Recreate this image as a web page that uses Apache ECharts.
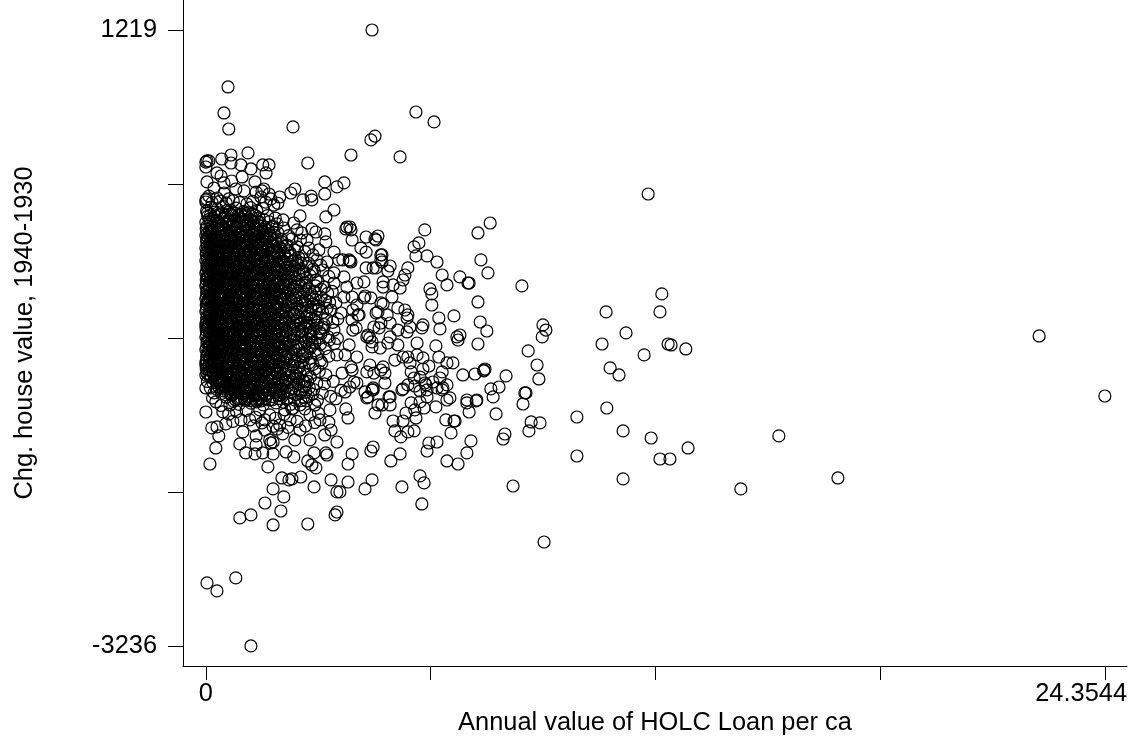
<!DOCTYPE html>
<html><head><meta charset="utf-8">
<style>html,body{margin:0;padding:0;background:#fff}#c{width:1143px;height:737px}</style>
<script src="https://cdn.jsdelivr.net/npm/echarts@6/dist/echarts.min.js"></script>
</head><body><div id="c"></div>
<script>
const xTickValues=[0,6.0886,12.1772,18.2658,24.3544];
const xTickLabels=[0];
const xEndLabel="24.3544";
const yTickValues=[-3236,-2122.25,-1008.5,105.25,1219];
const yTickLabels=[-3236,1219];
const xTitle="Annual value of HOLC Loan per ca";
const yTitle="Chg. house value, 1940-1930";
const topPoints=[[4.5,1219],[.6,807],[.49,619],[.62,503],[2.36,518],[5.69,626],[6.18,554],[4.58,452],[4.47,424],[3.93,315],[5.26,301],[2.76,257],[1.14,330],[.68,315],[.43,286],[.03,272],[0,264],[.08,272],[0,228],[.68,257],[.95,243],[1.54,243],[1.71,243],[1.22,214],[1.63,185],[.3,185],[.41,163],[.98,156],[.03,120],[.7,127],[1.33,120],[3.22,120],[3.74,113],[3.55,84],[2.41,69],[2.3,40],[3.22,33],[2.85,18],[2,11],[2.63,-10],[.49,113],[.22,76],[.81,69],[1.03,55],[1.57,69],[1.52,55],[1.36,47],[1.71,33],[.08,18],[.49,40],[.3,4],[.62,-3],[1.76,-3],[1.49,11],[0,-10],[11.98,33]];
const shoulderPoints=[[0,-25],[1.11,-39],[1.84,-47],[2.87,-10],[3.47,-83],[3.25,-133],[2.55,-126],[2.09,-155],[1.79,-206],[2.38,-177],[2.11,-213],[2.47,-227],[2.87,-220],[2.98,-242],[3.22,-256],[3.82,-206],[3.93,-227],[3.96,-300],[4.34,-278],[4.61,-300],[4.66,-271],[4.2,-358],[4.34,-387],[4.74,-408],[4.74,-444],[4.34,-502],[4.61,-502],[4.28,-603],[3.25,-314],[2.74,-300],[2.6,-249],[2.06,-314],[2.2,-336],[2.47,-350],[2.79,-358],[3.06,-372],[3.47,-387],[3.6,-444],[3.88,-444],[3.93,-459],[3.01,-444],[3.28,-459],[3.47,-538],[3.74,-567],[3.82,-640],[4.09,-611],[3.96,-712],[4.28,-719],[4.47,-719],[4.09,-770],[4.15,-842],[3.96,-878],[4.61,-828],[4.74,-755],[4.74,-900],[4.55,-929],[4.36,-1001],[4.5,-1037],[3.88,-1059],[4.09,-1146],[4.36,-1254],[4.55,-1262],[4.74,-1240],[4.5,-1384],[4.01,-1327],[3.69,-1262],[3.93,-1218],[3.25,-1276],[3.14,-1189],[3.55,-1131],[4.07,-936],[3.47,-951],[3.66,-828],[3.39,-806],[2.85,-864],[3.12,-712],[3.74,-712],[3.47,-611],[2.98,-589],[2.66,-531],[2.11,-466],[0,-1370],[.22,-1406],[0,-1204],[.08,-1276],[0,-929]];
const middlePoints=[[7.7,-177],[7.37,-249],[5.93,-227],[7.45,-444],[7.64,-538],[8.56,-632],[6.88,-567],[7.1,-611],[7.13,-611],[7.37,-748],[6.72,-849],[7.43,-893],[7.61,-958],[7.37,-1052],[8.73,-1102],[9.13,-914],[9.21,-951],[9.11,-1001],[8.97,-1204],[9.02,-1305],[8.64,-1406],[8.13,-1283],[7.94,-1363],[7.72,-1377],[7.78,-1435],[7.53,-1240],[7.56,-1233],[7.53,-1247],[7.29,-1269],[6.96,-1276],[6.69,-1189],[6.53,-1189],[6.31,-1146],[6.23,-1066],[5.72,-1045],[6.83,-1023],[6.88,-987],[6.8,-1001],[6.34,-943],[6.31,-864],[5.88,-914],[5.85,-936],[6.12,-770],[6.12,-690],[6.07,-654],[6.53,-625],[6.4,-553],[6.26,-459],[5.99,-415],[5.69,-415],[5.64,-350],[5.77,-321],[5.47,-502],[5.39,-553],[5.34,-589],[5.26,-647],[5.04,-712],[4.99,-488],[4.93,-524],[4.77,-408],[4.77,-459],[4.53,-502],[4.8,-603],[4.8,-640],[5.07,-625],[4.58,-292],[3.9,-206],[3.79,-220],[3.9,-452],[3.71,-444],[4.31,-705],[4.8,-763],[4.66,-820],[4.91,-842],[5.2,-791],[5.39,-806],[5.47,-842],[5.45,-864],[5.53,-929],[5.45,-965],[5.2,-951],[4.99,-900],[4.69,-936],[4.39,-987],[4.44,-1008],[4.99,-1001],[4.93,-1045],[5.2,-1059],[4.72,-1081],[4.5,-1073],[4.12,-842],[3.98,-806],[3.98,-951],[3.77,-1131],[4.44,-1204],[3.96,-1240],[4.8,-1218],[4.85,-1262],[4.85,-1334],[5.12,-1168],[5.34,-1146],[5.47,-1146],[5.72,-1131],[5.88,-1153],[5.53,-1189],[5.56,-1254],[5.88,-1233],[6.04,-1211],[6.4,-1254],[6.34,-1298],[6.15,-1327],[5.93,-1334],[5.8,-1291],[5.64,-1298],[5.47,-1348],[5.31,-1384],[5.8,-1392],[5.99,-1384],[6.26,-1370],[6.53,-1348],[6.4,-1384],[4.99,-1435],[4.53,-1384],[4.09,-1334],[3.9,-1363],[3.77,-1399],[4.39,-1435],[6.61,-1442],[7.07,-1457],[7.34,-1457]];
const lowerPoints=[[3.79,-1522],[3.85,-1587],[3.96,-1847],[3.85,-1920],[3.85,-2050],[4.31,-2100],[4.5,-2035],[4.47,-1826],[4.53,-1797],[5.01,-1898],[5.26,-1847],[5.31,-2086],[5.8,-2006],[5.91,-2057],[5.85,-2209],[5.99,-1826],[6.04,-1768],[6.26,-1761],[6.53,-1898],[6.83,-1920],[7.07,-1840],[7.18,-1753],[6.64,-1695],[6.5,-1601],[6.72,-1609],[6.75,-1609],[7.13,-1544],[7.07,-1478],[7.32,-1464],[7.86,-1558],[8.67,-1406],[8.59,-1486],[8.81,-1616],[8.75,-1681],[9.05,-1623],[8.1,-1703],[8.05,-1739],[8.32,-2079],[3.63,-2122],[3.5,-2288],[3.55,-2267],[4.58,-1551],[4.99,-1493],[4.96,-1435],[4.77,-1493],[4.66,-1493],[4.36,-1442],[4.31,-1399],[4.53,-1370],[5.34,-1377],[5.66,-1356],[5.96,-1348],[6.42,-1370],[6.53,-1457],[6.23,-1507],[5.91,-1515],[5.8,-1471],[5.99,-1435],[5.56,-1478],[5.42,-1551],[5.66,-1529],[5.69,-1587],[5.34,-1609],[5.07,-1609],[5.12,-1681],[5.28,-1724],[5.47,-1688],[5.64,-1681],[0,-1544],[.16,-1659],[.3,-1652],[.35,-1717],[.54,-1630],[.27,-1804],[.11,-1920],[.95,-1601],[1,-1688],[.92,-1775],[1.08,-1840],[1.33,-1847],[1.54,-1840],[1.82,-1847],[1.36,-1717],[1.36,-1782],[1.68,-1941],[2.06,-2021],[2.25,-2035],[2.33,-2028],[2.57,-2014],[1.82,-2100],[2.11,-2158],[1.6,-2202],[2.03,-2260],[1.22,-2288],[.92,-2310],[1.82,-2361],[2.76,-2354],[2.93,-2086],[3.55,-2122],[3.39,-2035],[2.98,-1948],[2.87,-1927],[2.76,-1898],[3.28,-1855],[3.25,-1840],[2.93,-1840],[2.38,-1869],[2.17,-1833],[1.82,-1761],[1.76,-1768],[3.55,-1761],[3.39,-1674],[.03,-2780],[.3,-2838],[.81,-2744],[1.22,-3236],[.65,-1493],[1.19,-1601],[1.6,-1674],[1.73,-1746],[2,-1638],[2.28,-1601],[2.41,-1746],[2.55,-1674],[2.82,-1565],[3.09,-1601],[3.22,-1710],[2.82,-1746],[2.14,-1529],[2.55,-1493],[1.46,-1529],[1.73,-1565],[2.95,-1493],[3.36,-1529],[10.84,-820],[12.35,-690],[12.3,-820],[11.38,-972],[12.52,-1052],[12.6,-1059],[13,-1088],[10.73,-1052],[11.87,-1131],[10.95,-1225],[11.19,-1276],[10.86,-1515],[10.05,-1580],[11.3,-1681],[12.06,-1732],[13.06,-1804],[15.52,-1717],[12.3,-1884],[12.57,-1884],[10.05,-1862],[11.3,-2028],[14.49,-2100],[17.12,-2021],[9.16,-2484],[22.57,-994],[24.35,-1428]];
const densePoints=[
[.02,-90],[.14,-62],[.31,-75],[.47,-58],[.66,-84],[.83,-70],[1.02,-93],[1.21,-66],[1.38,-88],[1.55,-72],
[.05,-128],[.19,-143],[.36,-118],[.52,-136],[.71,-125],[.9,-147],[1.07,-131],[1.26,-112],[1.44,-139],[1.67,-124],[1.88,-141],
[0,-172],[.11,-188],[.27,-165],[.42,-194],[.58,-177],[.76,-186],[.97,-169],[1.13,-192],[1.3,-175],[1.49,-198],[1.71,-168],[1.93,-183],
[.01,-221],[.09,-238],[.23,-214],[.35,-243],[.5,-226],[.64,-236],[.8,-217],[.99,-245],[1.17,-228],[1.34,-212],[1.52,-240],[1.69,-231],[1.95,-249],
[0,-266],[.06,-281],[.17,-259],[.29,-287],[.44,-270],[.56,-292],[.72,-263],[.87,-283],[1.03,-272],[1.19,-296],[1.36,-261],[1.58,-285],[1.75,-268],[1.9,-291],
[.02,-311],[.1,-326],[.21,-305],[.33,-333],[.46,-316],[.61,-338],[.75,-309],[.92,-329],[1.08,-318],[1.25,-341],[1.42,-307],[1.6,-331],[1.8,-322],
[0,-358],[.07,-372],[.16,-350],[.3,-379],[.41,-361],[.54,-384],[.69,-354],[.84,-376],[1,-363],[1.16,-388],[1.33,-352],[1.5,-374],[1.68,-366],[1.86,-385],[2.02,-357],[2.22,-378],
[.01,-403],[.12,-419],[.25,-397],[.37,-425],[.49,-409],[.63,-431],[.78,-401],[.94,-422],[1.11,-412],[1.28,-434],[1.46,-399],[1.63,-420],[1.82,-414],[1.99,-430],[2.3,-411],[2.51,-426],
[0,-449],[.08,-465],[.19,-443],[.32,-471],[.45,-455],[.59,-477],[.73,-447],[.89,-468],[1.05,-458],[1.22,-480],[1.39,-445],[1.57,-466],[1.74,-460],[1.92,-476],[2.34,-454],[2.58,-470],
[.03,-495],[.14,-511],[.27,-489],[.39,-517],[.52,-501],[.67,-523],[.81,-493],[.96,-514],[1.13,-504],[1.3,-526],[1.47,-491],[1.65,-512],[1.84,-506],[2.03,-522],[2.24,-498],[2.42,-516],[2.73,-492],[2.91,-510],
[0,-541],[.06,-557],[.18,-535],[.3,-563],[.43,-547],[.57,-569],[.7,-539],[.86,-560],[1.02,-550],[1.19,-572],[1.36,-537],[1.54,-558],[1.72,-552],[1.91,-568],[2.12,-544],[2.33,-562],[2.53,-540],[2.82,-556],
[.01,-587],[.11,-603],[.23,-581],[.35,-609],[.48,-593],[.62,-615],[.77,-585],[.93,-606],[1.09,-596],[1.26,-618],[1.43,-583],[1.61,-604],[1.79,-598],[1.98,-614],[2.19,-590],[2.4,-608],[2.61,-586],[3.03,-602],
[0,-633],[.08,-649],[.2,-627],[.33,-655],[.46,-639],[.6,-661],[.74,-631],[.9,-652],[1.06,-642],[1.23,-664],[1.4,-629],[1.58,-650],[1.77,-644],[1.96,-660],[2.16,-636],[2.36,-654],[2.57,-632],[2.77,-648],[3.21,-640],
[.02,-679],[.13,-695],[.26,-673],[.38,-701],[.51,-685],[.65,-707],[.79,-677],[.95,-698],[1.12,-688],[1.29,-710],[1.45,-675],[1.64,-696],[1.83,-690],[2.01,-706],[2.21,-682],[2.43,-700],[2.64,-678],[2.86,-694],[3.3,-686],
[0,-725],[.07,-741],[.17,-719],[.3,-747],[.44,-731],[.58,-753],[.72,-723],[.88,-744],[1.04,-734],[1.2,-756],[1.37,-721],[1.55,-742],[1.73,-736],[1.94,-752],[2.13,-728],[2.32,-746],[2.55,-724],[2.75,-740],[2.98,-732],[3.35,-750],
[.01,-771],[.12,-787],[.24,-765],[.36,-793],[.5,-777],[.63,-799],[.78,-769],[.93,-790],[1.1,-780],[1.27,-802],[1.44,-767],[1.62,-788],[1.81,-782],[2,-798],[2.2,-774],[2.41,-792],[2.62,-770],[2.84,-786],[3.05,-778],
[0,-817],[.09,-833],[.2,-811],[.32,-839],[.47,-823],[.6,-845],[.75,-815],[.91,-836],[1.07,-826],[1.24,-848],[1.41,-813],[1.59,-834],[1.78,-828],[1.97,-844],[2.17,-820],[2.38,-838],[2.59,-816],[2.8,-832],[3.16,-824],
[.02,-863],[.14,-879],[.27,-857],[.4,-885],[.53,-869],[.68,-891],[.82,-861],[.98,-882],[1.14,-872],[1.31,-894],[1.48,-859],[1.66,-880],[1.85,-874],[2.04,-890],[2.25,-866],[2.46,-884],[2.68,-862],[2.93,-878],[3.27,-870],
[0,-909],[.06,-925],[.18,-903],[.31,-931],[.43,-915],[.56,-937],[.71,-907],[.87,-928],[1.03,-918],[1.2,-940],[1.37,-905],[1.56,-926],[1.75,-920],[1.93,-936],[2.14,-912],[2.35,-930],[2.56,-908],[2.78,-924],[3,-916],[3.2,-934],
[.01,-955],[.11,-971],[.22,-949],[.35,-977],[.48,-961],[.61,-983],[.76,-953],[.92,-974],[1.08,-964],[1.25,-986],[1.42,-951],[1.6,-972],[1.79,-966],[1.99,-982],[2.19,-958],[2.39,-976],[2.6,-954],[2.83,-970],[3.08,-962],
[0,-1001],[.08,-1017],[.2,-995],[.34,-1023],[.46,-1007],[.59,-1029],[.73,-999],[.89,-1020],[1.05,-1010],[1.22,-1032],[1.39,-997],[1.57,-1018],[1.76,-1012],[1.95,-1028],[2.16,-1004],[2.37,-1022],[2.58,-1000],[2.79,-1016],[3.02,-1008],[3.34,-1024],
[.03,-1047],[.13,-1063],[.25,-1041],[.38,-1069],[.51,-1053],[.64,-1075],[.79,-1045],[.94,-1066],[1.11,-1056],[1.28,-1078],[1.45,-1043],[1.63,-1064],[1.82,-1058],[2.01,-1074],[2.22,-1050],[2.44,-1068],[2.66,-1046],[2.88,-1062],[3.1,-1054],
[0,-1093],[.07,-1109],[.19,-1087],[.29,-1115],[.42,-1099],[.55,-1121],[.7,-1091],[.86,-1112],[1.02,-1102],[1.18,-1124],[1.35,-1089],[1.53,-1110],[1.72,-1104],[1.92,-1120],[2.11,-1096],[2.31,-1114],[2.52,-1092],[2.74,-1108],[2.96,-1100],
[.02,-1139],[.12,-1155],[.24,-1133],[.37,-1161],[.49,-1145],[.63,-1167],[.77,-1137],[.93,-1158],[1.09,-1148],[1.26,-1170],[1.43,-1135],[1.61,-1156],[1.8,-1150],[1.99,-1166],[2.18,-1142],[2.4,-1160],[2.61,-1138],[2.84,-1154],
[0,-1185],[.09,-1201],[.21,-1179],[.33,-1207],[.45,-1191],[.6,-1213],[.74,-1183],[.9,-1204],[1.06,-1194],[1.23,-1216],[1.4,-1181],[1.58,-1202],[1.77,-1196],[1.96,-1212],[2.15,-1188],[2.36,-1206],[2.57,-1184],[2.9,-1200],
[.01,-1231],[.13,-1247],[.26,-1225],[.39,-1253],[.52,-1237],[.66,-1259],[.8,-1229],[.96,-1250],[1.12,-1240],[1.29,-1262],[1.46,-1227],[1.64,-1248],[1.83,-1242],[2.02,-1258],[2.23,-1234],[2.45,-1252],[2.67,-1230],
[0,-1277],[.15,-1293],[.28,-1271],[.41,-1299],[.54,-1283],[.68,-1305],[.83,-1275],[.99,-1296],[1.15,-1286],[1.32,-1308],[1.49,-1273],[1.67,-1294],[1.86,-1288],[2.06,-1304],[2.27,-1280],[2.49,-1298],[2.72,-1276],
[.04,-1323],[.3,-1317],[.44,-1345],[.57,-1329],[.71,-1351],[.85,-1321],[1.01,-1342],[1.17,-1332],[1.34,-1354],[1.51,-1319],[1.69,-1340],[1.88,-1334],[2.08,-1350],[2.29,-1326],[2.52,-1344],[2.76,-1322],[3,-1338],
[.12,-1369],[.35,-1363],[.48,-1391],[.62,-1375],[.76,-1397],[.9,-1367],[1.06,-1388],[1.22,-1378],[1.39,-1400],[1.56,-1365],[1.74,-1386],[1.93,-1380],[2.13,-1396],[2.34,-1372],[2.56,-1390],[2.8,-1368],
[.42,-1409],[.55,-1437],[.69,-1421],[.84,-1443],[.98,-1413],[1.14,-1434],[1.3,-1424],[1.47,-1446],[1.64,-1411],[1.82,-1432],[2.01,-1426],[2.21,-1442],[2.42,-1418],[2.65,-1436],[2.89,-1414],
[.75,-1467],[.9,-1489],[1.05,-1459],[1.22,-1480],[1.38,-1470],[1.55,-1492],[1.72,-1457],[1.9,-1478],[2.09,-1472],[2.3,-1488],[2.72,-1464],
[.02,-2],[.17,-30],[.39,-18],[.55,-32],[.74,-16],[.91,-28],[1.27,-20],[1.62,-26],[1.95,-34]
];
const coreUpperPoints=[
[.04,-105],[.24,-98],[.43,-112],[.6,-101],[.78,-108],[.95,-116],[1.15,-104],[1.33,-121],[.09,-150],[.3,-157],[.46,-149],[.63,-154],[.82,-162],[1.01,-151],[1.2,-158],[1.39,-161],[1.58,-155],
[.03,-200],[.16,-206],[.31,-199],[.47,-209],[.67,-203],[.86,-211],[1.06,-201],[1.24,-208],[1.42,-196],[1.6,-210],[1.82,-204],[.04,-251],[.14,-247],[.28,-254],[.41,-249],[.53,-258],[.7,-246],[.9,-256],[1.1,-250],[1.27,-255],[1.45,-248],[1.64,-257],[1.84,-244],
[.03,-296],[.13,-299],[.25,-293],[.38,-302],[.51,-297],[.66,-304],[.82,-295],[.97,-301],[1.13,-306],[1.31,-298],[1.48,-303],[1.66,-294],[1.87,-304],[2.05,-296],
[.04,-342],[.14,-347],[.26,-339],[.38,-350],[.5,-344],[.64,-352],[.79,-343],[.95,-349],[1.11,-341],[1.28,-347],[1.46,-345],[1.63,-352],[1.83,-342],[1.98,-349],[2.18,-344],
[.02,-388],[.1,-392],[.21,-385],[.33,-396],[.46,-390],[.59,-398],[.73,-388],[.89,-394],[1.06,-386],[1.22,-397],[1.4,-392],[1.56,-388],[1.75,-396],[1.93,-390],[2.12,-398],[2.28,-392],
[.04,-434],[.15,-437],[.29,-431],[.42,-441],[.54,-436],[.68,-443],[.84,-433],[1,-440],[1.16,-432],[1.33,-441],[1.51,-436],[1.69,-443],[1.87,-434],[2.06,-441],[2.2,-436],[2.42,-444],
[.03,-480],[.11,-484],[.23,-476],[.35,-487],[.48,-482],[.62,-489],[.77,-479],[.92,-486],[1.09,-477],[1.26,-488],[1.43,-482],[1.6,-489],[1.79,-480],[1.97,-486],[2.15,-478],[2.33,-487],[2.5,-482],
[.02,-526],[.09,-530],[.21,-523],[.33,-533],[.46,-528],[.6,-535],[.74,-525],[.89,-532],[1.05,-524],[1.22,-534],[1.4,-529],[1.58,-535],[1.76,-526],[1.95,-532],[2.14,-524],[2.32,-533],[2.63,-527],
[.04,-572],[.14,-576],[.26,-569],[.38,-579],[.51,-574],[.65,-581],[.8,-571],[.95,-578],[1.12,-570],[1.29,-580],[1.46,-575],[1.65,-581],[1.84,-572],[2.03,-578],[2.24,-570],[2.46,-579],[2.72,-574],
[.02,-618],[.09,-622],[.2,-615],[.32,-625],[.45,-620],[.58,-627],[.72,-617],[.87,-624],[1.04,-616],[1.21,-626],[1.38,-621],[1.56,-627],[1.75,-618],[1.93,-624],[2.13,-616],[2.31,-625],[2.52,-620],[2.72,-626]
];
const coreMiddlePoints=[
[.04,-664],[.16,-668],[.29,-661],[.41,-671],[.54,-666],[.68,-673],[.83,-663],[.98,-670],[1.15,-662],[1.32,-672],[1.49,-667],[1.68,-673],[1.87,-664],[2.06,-670],[2.27,-662],[2.49,-671],[2.71,-666],[2.95,-672],
[.02,-710],[.1,-714],[.22,-707],[.34,-717],[.47,-712],[.61,-719],[.76,-709],[.91,-716],[1.08,-708],[1.25,-718],[1.42,-713],[1.6,-719],[1.79,-710],[1.99,-716],[2.18,-708],[2.38,-717],[2.6,-712],[2.82,-718],
[.04,-756],[.15,-760],[.27,-753],[.39,-763],[.52,-758],[.66,-765],[.81,-755],[.96,-762],[1.13,-754],[1.3,-764],[1.47,-759],[1.66,-765],[1.85,-756],[2.05,-762],[2.26,-754],[2.47,-763],[2.7,-758],[2.91,-764],
[.02,-802],[.1,-806],[.22,-799],[.34,-809],[.46,-804],[.6,-811],[.74,-801],[.89,-808],[1.05,-800],[1.22,-810],[1.39,-805],[1.57,-811],[1.76,-802],[1.95,-808],[2.14,-800],[2.34,-809],[2.55,-804],[2.76,-810],[2.99,-803],
[.04,-848],[.15,-852],[.28,-845],[.41,-855],[.54,-850],[.68,-857],[.83,-847],[.99,-854],[1.16,-846],[1.33,-856],[1.5,-851],[1.69,-857],[1.88,-848],[2.08,-854],[2.29,-846],[2.51,-855],[2.73,-850],[2.98,-856],
[.02,-894],[.09,-898],[.21,-891],[.33,-901],[.45,-896],[.59,-903],[.73,-893],[.88,-900],[1.05,-892],[1.22,-902],[1.39,-897],[1.57,-903],[1.76,-894],[1.96,-900],[2.16,-892],[2.37,-901],[2.58,-896],[2.8,-902],[3.02,-895],
[.04,-940],[.15,-944],[.27,-937],[.4,-947],[.53,-942],[.67,-949],[.82,-939],[.97,-946],[1.14,-938],[1.31,-948],[1.48,-943],[1.67,-949],[1.86,-940],[2.06,-946],[2.27,-938],[2.48,-947],[2.7,-942],[2.93,-948],[3.13,-941],
[.02,-986],[.1,-990],[.22,-983],[.34,-993],[.46,-988],[.6,-995],[.75,-985],[.9,-992],[1.07,-984],[1.24,-994],[1.41,-989],[1.59,-995],[1.78,-986],[1.98,-992],[2.18,-984],[2.39,-993],[2.6,-988],[2.84,-994],
[.04,-1032],[.15,-1036],[.28,-1029],[.4,-1039],[.53,-1034],[.67,-1041],[.82,-1031],[.98,-1038],[1.15,-1030],[1.32,-1040],[1.49,-1035],[1.68,-1041],[1.87,-1032],[2.07,-1038],[2.28,-1030],[2.49,-1039],[2.71,-1034],[2.95,-1040],
[.02,-1078],[.09,-1082],[.21,-1075],[.33,-1085],[.46,-1080],[.6,-1087],[.74,-1077],[.89,-1084],[1.06,-1076],[1.23,-1086],[1.4,-1081],[1.58,-1087],[1.77,-1078],[1.97,-1084],[2.17,-1076],[2.38,-1085],[2.6,-1080],[2.82,-1086]
];
const coreLowerPoints=[
[.04,-1124],[.15,-1128],[.27,-1121],[.4,-1131],[.53,-1126],[.67,-1133],[.82,-1123],[.97,-1130],[1.14,-1122],[1.31,-1132],[1.48,-1127],[1.66,-1133],[1.85,-1124],[2.05,-1130],[2.25,-1122],[2.46,-1131],[2.68,-1126],
[.02,-1170],[.1,-1174],[.22,-1167],[.34,-1177],[.47,-1172],[.6,-1179],[.75,-1169],[.91,-1176],[1.07,-1168],[1.24,-1178],[1.41,-1173],[1.6,-1179],[1.79,-1170],[1.98,-1176],[2.19,-1168],[2.41,-1177],[2.63,-1172],
[.05,-1216],[.16,-1220],[.29,-1213],[.42,-1223],[.55,-1218],[.69,-1225],[.84,-1215],[1,-1222],[1.17,-1214],[1.34,-1224],[1.51,-1219],[1.7,-1225],[1.89,-1216],[2.09,-1222],[2.3,-1214],[2.52,-1223],
[.03,-1262],[.2,-1266],[.33,-1259],[.46,-1269],[.59,-1264],[.73,-1271],[.88,-1261],[1.03,-1268],[1.2,-1260],[1.37,-1270],[1.54,-1265],[1.73,-1271],[1.92,-1262],[2.12,-1268],[2.34,-1260],[2.56,-1269],
[.25,-1312],[.38,-1305],[.5,-1315],[.63,-1310],[.77,-1317],[.92,-1307],[1.08,-1314],[1.25,-1306],[1.42,-1316],[1.59,-1311],[1.78,-1317],[1.97,-1308],[2.17,-1314],[2.39,-1306],[2.62,-1315],
[.4,-1351],[.53,-1361],[.66,-1356],[.8,-1363],[.96,-1353],[1.12,-1360],[1.28,-1352],[1.45,-1362],[1.62,-1357],[1.81,-1363],[2,-1354],[2.2,-1360],[2.43,-1352],[2.67,-1361],
[.6,-1402],[.73,-1409],[.88,-1399],[1.03,-1406],[1.19,-1398],[1.36,-1408],[1.53,-1403],[1.71,-1409],[1.9,-1400],[2.1,-1406],[2.31,-1398],[2.54,-1407],
[.8,-1455],[.96,-1445],[1.11,-1452],[1.27,-1444],[1.44,-1454],[1.61,-1449],[1.8,-1455],[1.99,-1446],[2.2,-1452],[2.4,-1456]
];
const coreFillPoints=[
[.13,-118],[.11,-163],[.17,-229],[.1,-271],[.12,-315],[.15,-364],[.09,-410],[.16,-452],[.07,-503],[.12,-551],[.14,-596],[.1,-640],[.16,-688],[.06,-733],[.13,-779],[.11,-824],[.15,-871],[.08,-917],[.12,-963],[.17,-1009],[.1,-1055],[.14,-1100],[.11,-1147],[.16,-1193],[.07,-1239],[.13,-1285],[.19,-1332],[.28,-1378],
[.25,-126],[.34,-173],[.37,-219],[.24,-264],[.39,-311],[.26,-356],[.35,-404],[.25,-449],[.36,-497],[.24,-545],[.37,-590],[.27,-634],[.34,-681],[.23,-726],[.38,-773],[.28,-819],[.35,-864],[.24,-911],[.38,-958],[.27,-1003],[.35,-1049],[.25,-1096],[.38,-1141],[.26,-1187],[.36,-1233],[.24,-1279],[.37,-1326],[.44,-1372],
[.52,-120],[.56,-166],[.44,-212],[.57,-257],[.49,-306],[.57,-348],[.42,-395],[.56,-441],[.42,-492],[.55,-538],[.43,-584],[.55,-628],[.42,-674],[.54,-720],[.44,-766],[.56,-812],[.43,-858],[.55,-904],[.44,-950],[.56,-996],[.43,-1042],[.56,-1088],[.44,-1134],[.56,-1180],[.45,-1226],[.55,-1272],[.44,-1318],[.56,-1364],[.66,-1410],
[.69,-114],[.75,-160],[.62,-207],[.78,-252],[.6,-299],[.74,-346],[.62,-391],[.76,-437],[.6,-484],[.76,-530],[.6,-577],[.76,-622],[.61,-668],[.74,-714],[.62,-760],[.76,-806],[.62,-852],[.74,-898],[.62,-944],[.76,-990],[.6,-1036],[.76,-1082],[.61,-1128],[.75,-1174],[.62,-1220],[.76,-1266],[.62,-1312],[.74,-1358],[.8,-1404],[.87,-1450],
[.88,-122],[.91,-168],[.82,-214],[.95,-260],[.8,-306],[.9,-351],[.81,-397],[.93,-443],[.8,-489],[.94,-535],[.82,-581],[.93,-627],[.81,-673],[.9,-719],[.82,-765],[.94,-811],[.8,-857],[.92,-903],[.81,-949],[.94,-995],[.8,-1041],[.94,-1087],[.81,-1133],[.92,-1179],[.82,-1225],[.93,-1271],[.81,-1317],[.93,-1363],[.97,-1409],[1.04,-1447],
[1.06,-110],[1.1,-156],[1,-215],[1.11,-262],[1.02,-308],[1.12,-352],[1.01,-400],[1.09,-446],[1.03,-490],[1.11,-538],[1,-583],[1.1,-630],[1.02,-676],[1.12,-722],[1.01,-768],[1.11,-814],[1.01,-860],[1.1,-906],[1.02,-952],[1.13,-998],[1,-1044],[1.1,-1090],[1.01,-1136],[1.12,-1182],[1,-1228],[1.11,-1274],[1.03,-1320],[1.1,-1366],[1.15,-1412],[1.19,-1462],
[1.23,-130],[1.29,-170],[1.19,-216],[1.3,-263],[1.21,-311],[1.33,-356],[1.19,-402],[1.31,-449],[1.2,-494],[1.33,-541],[1.18,-586],[1.3,-632],[1.2,-678],[1.33,-724],[1.18,-770],[1.32,-816],[1.2,-862],[1.33,-908],[1.19,-954],[1.32,-1000],[1.21,-1046],[1.33,-1092],[1.19,-1138],[1.3,-1184],[1.2,-1230],[1.33,-1276],[1.19,-1322],[1.3,-1368],[1.33,-1414],[1.35,-1458],
[1.46,-170],[1.38,-222],[1.53,-268],[1.4,-313],[1.54,-359],[1.38,-405],[1.53,-451],[1.4,-497],[1.55,-543],[1.38,-589],[1.53,-635],[1.39,-681],[1.55,-727],[1.38,-773],[1.53,-819],[1.38,-865],[1.54,-911],[1.4,-957],[1.54,-1003],[1.38,-1049],[1.55,-1095],[1.38,-1141],[1.53,-1187],[1.4,-1233],[1.55,-1279],[1.39,-1325],[1.54,-1371],[1.42,-1417],[1.5,-1463],
[1.6,-222],[1.73,-262],[1.6,-318],[1.71,-363],[1.59,-409],[1.74,-455],[1.6,-501],[1.73,-547],[1.58,-593],[1.72,-639],[1.6,-685],[1.74,-731],[1.6,-777],[1.73,-823],[1.6,-869],[1.72,-915],[1.6,-961],[1.74,-1007],[1.6,-1053],[1.73,-1099],[1.6,-1145],[1.72,-1191],[1.6,-1237],[1.73,-1283],[1.59,-1329],[1.72,-1375],[1.6,-1421],
[1.91,-322],[1.79,-368],[1.94,-414],[1.8,-460],[1.92,-506],[1.79,-552],[1.94,-598],[1.82,-644],[1.92,-690],[1.8,-736],[1.93,-782],[1.8,-828],[1.94,-874],[1.81,-920],[1.92,-966],[1.8,-1012],[1.94,-1058],[1.82,-1104],[1.93,-1150],[1.8,-1196],[1.93,-1242],[1.81,-1288],[1.94,-1334],[1.8,-1380],[1.95,-1426],
[2.13,-410],[2.03,-456],[2.16,-502],[2.04,-548],[2.17,-594],[2.03,-640],[2.14,-686],[2.04,-732],[2.17,-778],[2.05,-824],[2.15,-870],[2.03,-916],[2.17,-962],[2.05,-1008],[2.15,-1054],[2.04,-1100],[2.16,-1146],[2.04,-1192],[2.17,-1238],[2.04,-1284],[2.15,-1330],[2.07,-1376]
];
const flankPoints=[
[2.24,-268],[2.33,-292],[2.56,-301],[2.41,-372],[2.68,-385],[2.9,-407],[2.63,-441],[2.78,-468],[3.11,-481],[2.94,-529],[3.17,-517],[3.33,-563],[2.7,-610],[2.97,-632],[3.12,-655],[3.42,-672],[2.9,-726],[3.24,-739],[3.52,-755],[3.06,-801],[3.28,-794],[3.57,-871],[3.44,-895],[3.2,-911],[3.12,-978],[3.31,-1001],[3.56,-1012],[3.48,-1049],[3.23,-1086],[3.03,-1126],[3.33,-1140],[3.1,-1173],[2.79,-1189],[2.95,-1232],[3.07,-1250],[2.83,-1290],[2.66,-1322],[3.21,-1341],[3.45,-1322],[2.92,-1381],[3.15,-1407],[3.38,-1431],[2.78,-1433],[3.02,-1459],[2.57,-1462],[2.68,-1521],[2.36,-1517],[2.12,-1561],[1.88,-1589],[1.6,-1601],[1.35,-1582],[1.09,-1532],[.83,-1541],[.62,-1559],[.41,-1497],[.27,-1470],[.18,-1442],[.46,-1543],[.73,-1612],[1.29,-1644],[1.52,-1622],[1.93,-1668],[2.22,-1655],[2.47,-1612],[2.7,-1645],[2.95,-1620],[3.05,-1552],[3.52,-1448],[3.66,-1388],[3.33,-1618],[2.08,-1702],[1.82,-1648],[2.33,-1521],[2.02,-1418],[2.7,-1401],[2.44,-1281],[2.88,-1042],[2.62,-1124],[2.52,-961],[2.73,-900],[2.43,-835],[2.6,-744],[2.42,-635],[2.24,-545],[2.47,-468],[2.2,-436]
];
const allPoints=[...topPoints,...shoulderPoints,...middlePoints,...lowerPoints,...densePoints,...coreUpperPoints,...coreMiddlePoints,...coreLowerPoints,...coreFillPoints,...flankPoints];
const chart=echarts.init(document.getElementById('c'),null,{renderer:'canvas'});
const font={color:'#000',fontFamily:'"Liberation Sans",Arial,sans-serif',fontSize:25.4};
chart.setOption({
  animation:false,backgroundColor:'#fff',
  grid:{left:183,top:0,right:16,bottom:71,outerBoundsMode:'none'},
  xAxis:{type:'value',min:-0.62,max:24.95,splitLine:{show:false},
    name:xTitle,nameLocation:'middle',nameGap:39,nameTextStyle:font,
    axisLine:{onZero:false,lineStyle:{color:'#000',width:1}},
    axisTick:{length:14,lineStyle:{color:'#000',width:1},customValues:xTickValues},
    axisLabel:{...font,margin:15,customValues:xTickLabels,formatter:v=>String(v)}},
  yAxis:{type:'value',min:-3381,max:1436,splitLine:{show:false},
    name:yTitle,nameLocation:'middle',nameGap:146,nameTextStyle:font,
    axisLine:{onZero:false,lineStyle:{color:'#000',width:1}},
    axisTick:{length:15,lineStyle:{color:'#000',width:1},customValues:yTickValues},
    axisLabel:{...font,margin:26,padding:[4,0,0,0],customValues:yTickLabels,formatter:v=>String(v)}},
  graphic:[{type:'text',x:1127,y:681,style:{text:xEndLabel,fill:'#000',font:'25.4px "Liberation Sans",Arial,sans-serif',textAlign:'right',textVerticalAlign:'top'}}],
  series:[{type:'scatter',data:allPoints,symbol:'circle',symbolSize:12,large:false,progressive:0,
    itemStyle:{color:'transparent',borderColor:'#000',borderWidth:1.2,opacity:1},silent:true}]
});
</script></body></html>
